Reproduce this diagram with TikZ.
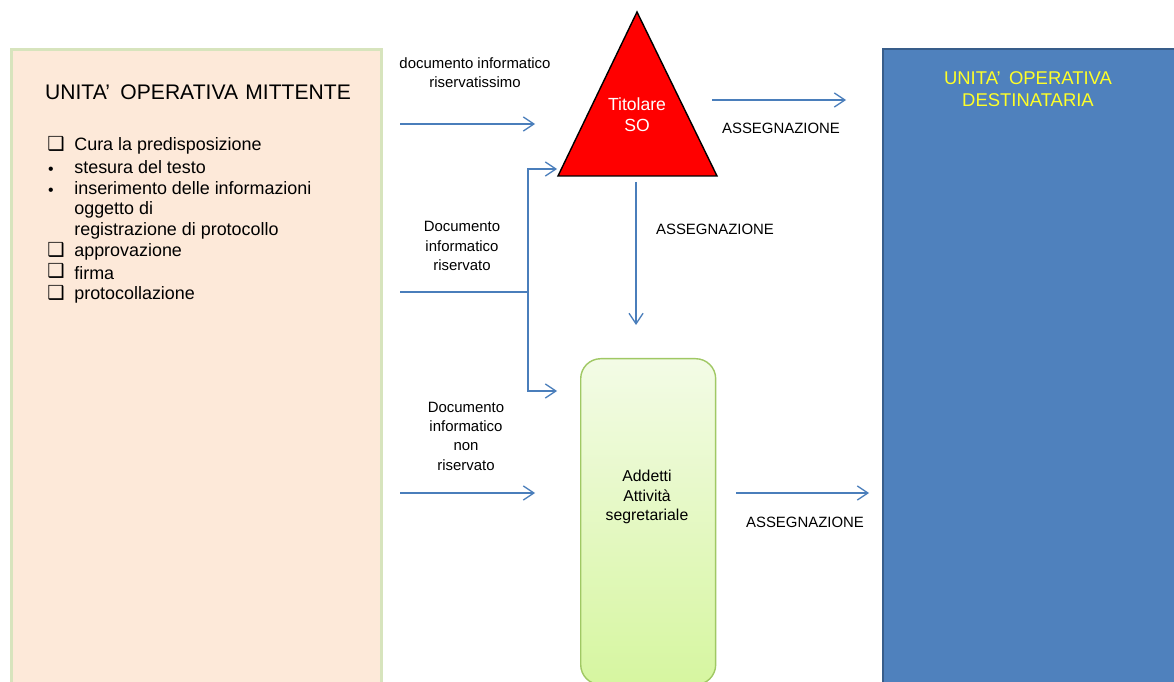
\documentclass[tikz,border=0pt]{standalone}
\usepackage{fontspec}
\setmainfont{Liberation Sans}
\newfontfamily\symfont{DejaVu Sans}
\usetikzlibrary{arrows.meta, positioning}

\definecolor{peach}{RGB}{253,233,217}
\definecolor{sage}{RGB}{215,228,189}
\definecolor{flowblue}{RGB}{74,126,187}
\definecolor{destblue}{RGB}{79,129,189}
\definecolor{destedge}{RGB}{56,93,138}
\definecolor{limetop}{RGB}{243,251,230}
\definecolor{limebot}{RGB}{214,246,160}
\definecolor{limeedge}{RGB}{160,200,100}
\definecolor{titred}{RGB}{255,0,0}
\definecolor{desttext}{RGB}{255,255,40}

\tikzset{
  flow/.style={draw=flowblue, line width=0.75pt, -{Straight Barb[length=6pt,width=8pt]}},
  lbl/.style={font=\fontsize{8.5}{11}\selectfont, align=center, inner sep=0pt},
  listtxt/.style={anchor=west, font=\fontsize{10.2}{12}\selectfont, inner sep=0pt},
  boxmark/.style={font=\symfont\fontsize{11}{12}\selectfont, inner sep=0pt},
  dotmark/.style={font=\fontsize{9}{12}\selectfont, inner sep=0pt},
}

\begin{document}
\begin{tikzpicture}[x=0.02cm, y=-0.02cm]
\clip (0,0) rectangle (1174,682);
\fill[white] (0,0) rectangle (1174,682);

% Sender unit
\node[draw=sage, line width=1.7pt, fill=peach, anchor=north west, inner sep=0pt,
      minimum width=7.4cm, minimum height=13cm] (mitt) at (10,48) {};
\node[font=\fontsize{12}{14}\selectfont, inner sep=0pt] (mitttitle) at (198,92) {UNITA'\hspace{0.5em}OPERATIVA\hspace{0.35em}MITTENTE};

\foreach \y/\t in {146/Cura la predisposizione, 167/stesura del testo,
                   188/inserimento delle informazioni, 210/oggetto di,
                   231/registrazione di protocollo, 252/approvazione,
                   273/firma, 295/protocollazione} {
    \node[listtxt] (item\y) at (74,\y) {\t};
}
\foreach \y in {146,252,273,295} {
    \node[boxmark] (box\y) at (56,\y-2) {❑};
}
\foreach \y in {167,188} {
    \node[dotmark] (dot\y) at (51,\y+4) {•};
}

% Receiver unit
\node[draw=destedge, line width=1.2pt, fill=destblue, anchor=north west, inner sep=0pt,
      minimum width=6cm, minimum height=13cm] (dest) at (882,48) {};
\node[font=\fontsize{10.5}{12.5}\selectfont, text=desttext, align=center, inner sep=0pt] (desttitle) at (1028,89) {UNITA'\hspace{0.45em}OPERATIVA\\DESTINATARIA};

% Titolare
\draw[fill=titred, draw=black, line width=0.8pt] (637,12) -- (717,176) -- (558,176) -- cycle;
\node[font=\fontsize{10}{12}\selectfont, text=white, align=center, inner sep=0pt] (tit) at (637,115) {Titolare\\SO};

% Segreteria
\node[draw=limeedge, line width=0.8pt, top color=limetop, bottom color=limebot,
      rounded corners=0.4cm, anchor=north west, inner sep=0pt,
      minimum width=2.7cm, minimum height=6.52cm] (add) at (580,358) {};
\node[font=\fontsize{9}{11}\selectfont, align=center, inner sep=0pt] (addtxt) at (647,497) {Addetti\\Attività\\segretariale};

% Flows
\coordinate (in1) at (400,124);
\coordinate (in1e) at (535,124);
\coordinate (in2) at (400,292);
\coordinate (fork) at (528,292);
\coordinate (forkt) at (528,169);
\coordinate (forkb) at (528,391);
\coordinate (in2t) at (557,169);
\coordinate (in2b) at (557,391);
\coordinate (in3) at (400,493);
\coordinate (in3e) at (535,493);
\coordinate (out1) at (712,100);
\coordinate (out1e) at (846,100);
\coordinate (down) at (636,182);
\coordinate (downe) at (636,325);
\coordinate (out2) at (736,493);
\coordinate (out2e) at (869,493);

\draw[flow] (in1) -- (in1e);
\draw[flow, -] (in2) -- (fork);
\draw[flow] (fork) -- (forkt) -- (in2t);
\draw[flow] (fork) -- (forkb) -- (in2b);
\draw[flow] (in3) -- (in3e);
\draw[flow] (out1) -- (out1e);
\draw[flow] (down) -- (downe);
\draw[flow] (out2) -- (out2e);

% Labels
\node[lbl] (l1) at (475,73) {documento informatico\\riservatissimo};
\node[lbl] (l2) at (462,246) {Documento\\informatico\\riservato};
\node[lbl] (l3) at (466,436) {Documento\\informatico\\non\\riservato};
\node[lbl] (a1) at (781,128) {ASSEGNAZIONE};
\node[lbl] (a2) at (715,229) {ASSEGNAZIONE};
\node[lbl] (a3) at (805,522) {ASSEGNAZIONE};
\end{tikzpicture}
\end{document}
